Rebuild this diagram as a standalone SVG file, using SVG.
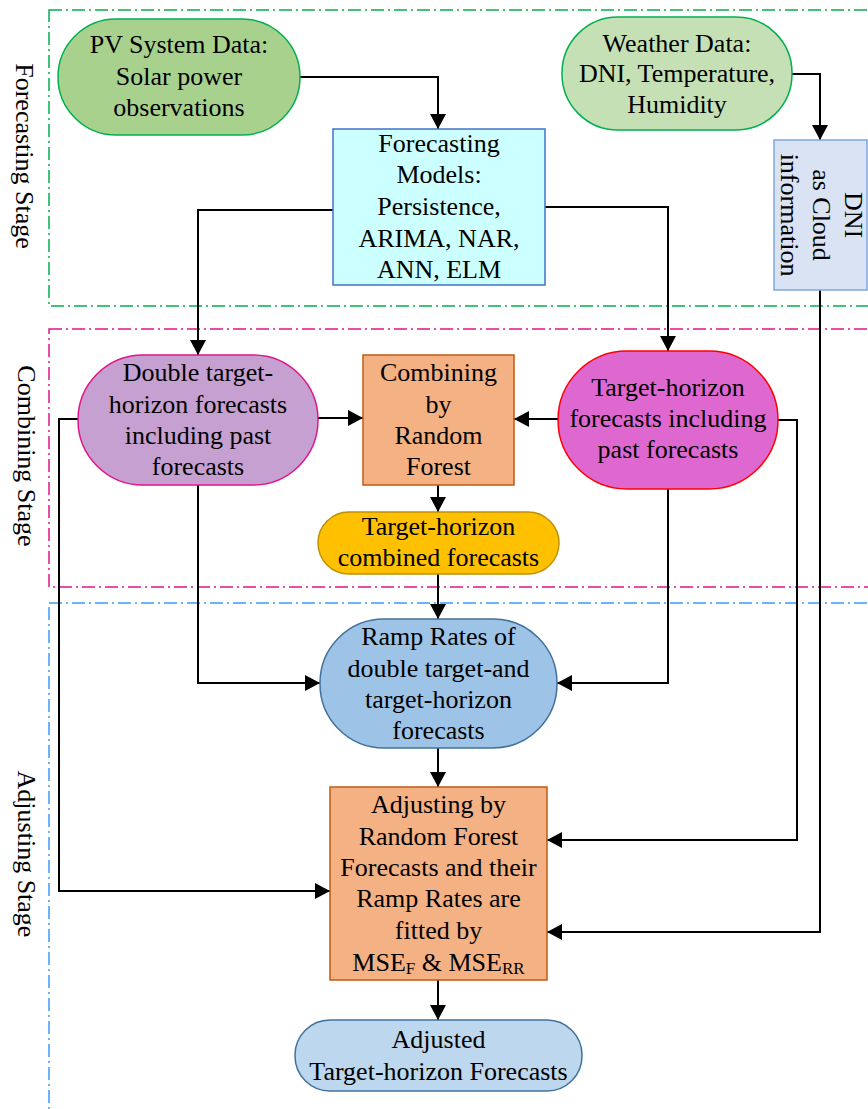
<svg xmlns="http://www.w3.org/2000/svg" width="868" height="1109" viewBox="0 0 868 1109">
<defs>
<style>
text{font-family:"Liberation Serif","Times New Roman",serif;font-size:26px;fill:#000;text-anchor:middle}
.stage{fill:none;stroke-width:1.5;stroke-dasharray:13 4 2 4}
.node{stroke-width:1.5}
.conn{fill:none;stroke:#000;stroke-width:2;marker-end:url(#ah)}
.sub{font-size:17px}
</style>
<marker id="ah" markerUnits="userSpaceOnUse" markerWidth="16" markerHeight="16" refX="15" refY="8" orient="auto" viewBox="0 0 16 16">
<path d="M0,0 L15,8 L0,16 z" fill="#000"/>
</marker>
</defs>
<rect width="868" height="1109" fill="#fff"/>
<g id="stages">
<rect class="stage" x="49" y="10" width="860" height="296" stroke="#00b050"/>
<rect class="stage" x="49" y="329" width="860" height="258" stroke="#e0148c"/>
<rect class="stage" x="49" y="603" width="860" height="540" stroke="#3d9bff"/>
<text transform="translate(16,156) rotate(90)">Forecasting Stage</text>
<text transform="translate(18,456) rotate(90)">Combining Stage</text>
<text transform="translate(18,854) rotate(90)">Adjusting Stage</text>
</g>
<g id="connectors">
<path class="conn" d="M300,77 H438 V129"/>
<path class="conn" d="M792,74 H820 V140"/>
<path class="conn" d="M333,210 H198 V355"/>
<path class="conn" d="M545,207 H668 V351"/>
<path class="conn" d="M318,418 H363"/>
<path class="conn" d="M558,419 H514"/>
<path class="conn" d="M438,485 V512"/>
<path class="conn" d="M438,574 V619"/>
<path class="conn" d="M198,485 V683 H320"/>
<path class="conn" d="M668,489 V683 H557"/>
<path class="conn" d="M438,748 V787"/>
<path class="conn" d="M78,419 H59 V891 H330"/>
<path class="conn" d="M778,420 H797 V840 H547"/>
<path class="conn" d="M820,290 V932 H547"/>
<path class="conn" d="M438,980 V1020"/>
</g>
<g id="pv">
<rect class="node" x="58" y="19" width="242" height="116" rx="58" fill="#a9d18e" stroke="#00b050"/>
<text x="179" y="53">PV System Data:</text>
<text x="179" y="85">Solar power</text>
<text x="179" y="116">observations</text>
</g>
<g id="weather">
<rect class="node" x="562" y="17" width="230" height="113" rx="56" fill="#c5e0b4" stroke="#00b050"/>
<text x="677" y="52">Weather Data:</text>
<text x="677" y="82">DNI, Temperature,</text>
<text x="677" y="113">Humidity</text>
</g>
<g id="models">
<rect class="node" x="333" y="129" width="212" height="156" fill="#ccffff" stroke="#4472c4"/>
<text x="439" y="152">Forecasting</text>
<text x="439" y="183">Models:</text>
<text x="439" y="215">Persistence,</text>
<text x="439" y="247">ARIMA, NAR,</text>
<text x="439" y="278">ANN, ELM</text>
</g>
<g id="dni">
<rect class="node" x="774" y="140" width="93" height="150" fill="#dae3f3" stroke="#7ea6e0"/>
<text transform="translate(845,215) rotate(90)"><tspan x="0" y="0">DNI</tspan><tspan x="0" y="32">as Cloud</tspan><tspan x="0" y="64">information</tspan></text>
</g>
<g id="double">
<rect class="node" x="78" y="355" width="240" height="130" rx="65" fill="#c5a0d0" stroke="#e0148c"/>
<text x="198" y="381">Double target-</text>
<text x="198" y="413">horizon forecasts</text>
<text x="198" y="444">including past</text>
<text x="198" y="475">forecasts</text>
</g>
<g id="combining">
<rect class="node" x="363" y="355" width="151" height="130" fill="#f4b183" stroke="#c55a11"/>
<text x="438.5" y="381">Combining</text>
<text x="438.5" y="413">by</text>
<text x="438.5" y="444">Random</text>
<text x="438.5" y="475">Forest</text>
</g>
<g id="target">
<rect class="node" x="558" y="351" width="220" height="138" rx="69" fill="#df68d0" stroke="#ff0000"/>
<text x="668" y="396">Target-horizon</text>
<text x="668" y="427">forecasts including</text>
<text x="668" y="458">past forecasts</text>
</g>
<g id="combined">
<rect class="node" x="318" y="512" width="241" height="62" rx="31" fill="#ffc000" stroke="#bf9000"/>
<text x="438.5" y="535">Target-horizon</text>
<text x="438.5" y="566">combined forecasts</text>
</g>
<g id="ramp">
<rect class="node" x="320" y="619" width="237" height="129" rx="64" fill="#9dc3e6" stroke="#41719c"/>
<text x="438.5" y="645">Ramp Rates of</text>
<text x="438.5" y="677">double target-and</text>
<text x="438.5" y="708">target-horizon</text>
<text x="438.5" y="739">forecasts</text>
</g>
<g id="adjusting">
<rect class="node" x="330" y="787" width="217" height="193" fill="#f4b183" stroke="#c55a11"/>
<text x="438.5" y="813">Adjusting by</text>
<text x="438.5" y="845">Random Forest</text>
<text x="438.5" y="876">Forecasts and their</text>
<text x="438.5" y="907">Ramp Rates are</text>
<text x="438.5" y="939">fitted by</text>
<text x="438.5" y="971">MSE<tspan class="sub" dy="3">F</tspan><tspan dy="-3"> &amp; MSE</tspan><tspan class="sub" dy="3">RR</tspan></text>
</g>
<g id="adjusted">
<rect class="node" x="295" y="1020" width="287" height="71" rx="35" fill="#bdd7ee" stroke="#41719c"/>
<text x="438.5" y="1048">Adjusted</text>
<text x="438.5" y="1080">Target-horizon Forecasts</text>
</g>
</svg>
